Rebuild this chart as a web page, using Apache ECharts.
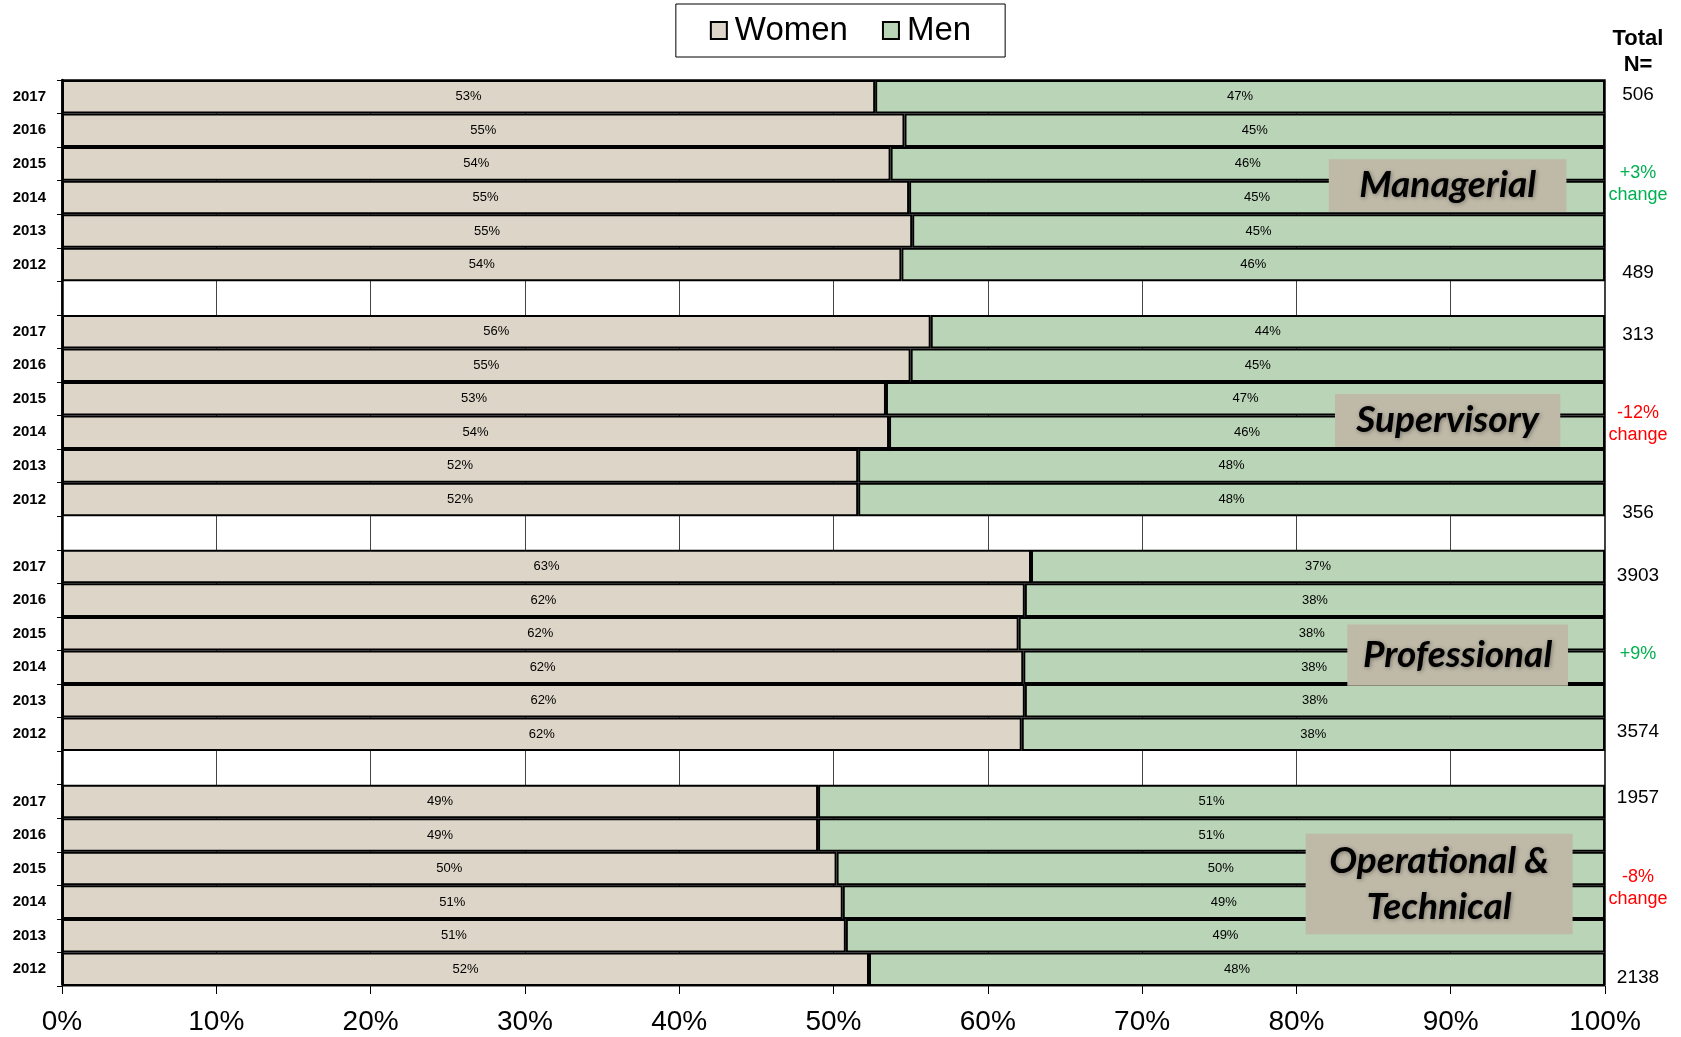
<!DOCTYPE html>
<html><head><meta charset="utf-8">
<script src="https://cdn.jsdelivr.net/npm/echarts@6/dist/echarts.min.js"></script>
<style>html,body{margin:0;padding:0;background:#fff;}#c{width:1681px;height:1037px;}</style>
</head><body><div id="c"></div>
<script>
const years = ['2017','2016','2015','2014','2013','2012'];
const groupNames = ['Managerial','Supervisory','Professional','Operational &\nTechnical'];
const managerialWomen   = [52.7, 54.6, 53.7, 54.9, 55.1, 54.4];
const managerialMen     = [47.3, 45.4, 46.3, 45.1, 44.9, 45.6];
const supervisoryWomen  = [56.3, 55.0, 53.4, 53.6, 51.6, 51.6];
const supervisoryMen    = [43.7, 45.0, 46.6, 46.4, 48.4, 48.4];
const professionalWomen = [62.8, 62.4, 62.0, 62.3, 62.4, 62.2];
const professionalMen   = [37.2, 37.6, 38.0, 37.7, 37.6, 37.8];
const operationalWomen  = [49.0, 49.0, 50.2, 50.6, 50.8, 52.3];
const operationalMen    = [51.0, 51.0, 49.8, 49.4, 49.2, 47.7];
const xTicks = [0,10,20,30,40,50,60,70,80,90,100];
// right-hand annotations
const totalsFirst = ['506','313','3903','1957'];
const totalsLast  = ['489','356','3574','2138'];
const changeText  = ['+3%\nchange','-12%\nchange','+9%','-8%\nchange'];
const changeColor = ['#00B050','#FF0000','#00B050','#FF0000'];

const womenGroups = [managerialWomen, supervisoryWomen, professionalWomen, operationalWomen];
const menGroups = [managerialMen, supervisoryMen, professionalMen, operationalMen];
const cats = [], women = [], men = [];
womenGroups.forEach((g, gi) => {
  if (gi > 0) { cats.push(''); women.push('-'); men.push('-'); }
  years.forEach((y, i) => { cats.push(y); women.push(g[i]); men.push(menGroups[gi][i]); });
});

const WOMEN_C = '#DDD5C7', MEN_C = '#B9D4B6';
const labelOpt = {show: true, position: 'inside', color: '#000', fontSize: 13, fontFamily: 'Liberation Sans, Arial',
  formatter: p => Math.round(p.value) + '%'};
const chart = echarts.init(document.getElementById('c'), null, {renderer: 'canvas'});
chart.setOption({
  animation: false,
  backgroundColor: '#fff',
  grid: {left: 62, right: 76, top: 80, bottom: 51, show: true, borderColor: '#000', borderWidth: 1.5, backgroundColor: 'transparent'},
  legend: {
    data: ['Women','Men'], top: 4, left: 'center', icon: 'rect',
    backgroundColor: '#fff', borderColor: '#000', borderWidth: 1,
    padding: [10, 34, 10, 34], itemGap: 34, itemWidth: 16, itemHeight: 17,
    textStyle: {fontSize: 33, color: '#000', fontFamily: 'Liberation Sans, Arial', padding: [0,0,0,3]},
    itemStyle: {borderColor: '#000', borderWidth: 2}
  },
  xAxis: {
    type: 'value', min: 0, max: 100, interval: 10,
    axisLine: {show: true, lineStyle: {color: '#888', width: 2}},
    axisTick: {show: true, length: 8, lineStyle: {color: '#000', width: 1}},
    axisLabel: {formatter: '{value}%', fontSize: 28, color: '#000', margin: 22, fontFamily: 'Liberation Sans, Arial'},
    splitLine: {show: true, lineStyle: {color: '#444', width: 1}}
  },
  yAxis: {
    type: 'category', inverse: true, data: cats,
    axisLine: {show: true, lineStyle: {color: '#000', width: 2.5}},
    axisTick: {show: true, length: 5, lineStyle: {color: '#000', width: 1}},
    axisLabel: {fontSize: 15, fontWeight: 'bold', color: '#000', margin: 16, fontFamily: 'Liberation Sans, Arial'}
  },
  series: [
    {name: 'Women', type: 'bar', stack: 's', data: women, barCategoryGap: '0%',
     itemStyle: {color: WOMEN_C, borderColor: '#000', borderWidth: 2}, label: labelOpt},
    {name: 'Men', type: 'bar', stack: 's', data: men, barCategoryGap: '0%',
     itemStyle: {color: MEN_C, borderColor: '#000', borderWidth: 2}, label: labelOpt}
  ]
});

// annotations placed via the chart's own axes
const y0 = chart.convertToPixel({yAxisIndex: 0}, 0);
const y1 = chart.convertToPixel({yAxisIndex: 0}, 1);
const rowH = y1 - y0;
const rowY = r => y0 + r * rowH;
const bY = b => y0 - rowH / 2 + b * rowH;
const px = v => chart.convertToPixel({xAxisIndex: 0}, v);
const annX = 1638;
const firstR = [-0.05, 7.1, 14.26, 20.9];
const lastR = [5.25, 12.41, 18.92, 26.24];
const changeR = [2.61, 9.76, 16.6, 23.59];
const boxes = [[82.1, 97.5, 2.36, 3.93], [82.5, 97.1, 9.36, 10.93], [83.3, 97.6, 16.23, 18.05], [80.6, 97.9, 22.46, 25.46]];
const txt = (text, x, y, extra) => ({type: 'text', x: x, y: y, z: 100, style: Object.assign({
  text: text, align: 'center', verticalAlign: 'middle', fill: '#000', fontSize: 19, fontFamily: 'Liberation Sans, Arial', lineHeight: 22}, extra || {})});
const g = [];
g.push(txt('Total\nN=', annX, 52, {fontWeight: 'bold', fontSize: 22, lineHeight: 26}));
for (let i = 0; i < 4; i++) {
  g.push(txt(totalsFirst[i], annX, rowY(firstR[i])));
  g.push(txt(totalsLast[i], annX, rowY(lastR[i])));
  g.push(txt(changeText[i], annX, rowY(changeR[i]), {fill: changeColor[i], fontSize: 18, lineHeight: 22}));
  const b = boxes[i];
  const x1 = px(b[0]), x2 = px(b[1]), yt = bY(b[2]), yb = bY(b[3]);
  g.push({type: 'rect', z: 90, shape: {x: x1, y: yt, width: x2 - x1, height: yb - yt}, style: {fill: '#BFB9A8'}});
  g.push(txt(groupNames[i], (x1 + x2) / 2, (yt + yb) / 2, {fontSize: 37, fontWeight: 'bold', fontStyle: 'italic',
    fontFamily: 'Lato', lineHeight: 46, textShadowColor: 'rgba(0,0,0,0.35)', textShadowBlur: 4, textShadowOffsetX: 1, textShadowOffsetY: 1}));
}
chart.setOption({graphic: g});
</script></body></html>
